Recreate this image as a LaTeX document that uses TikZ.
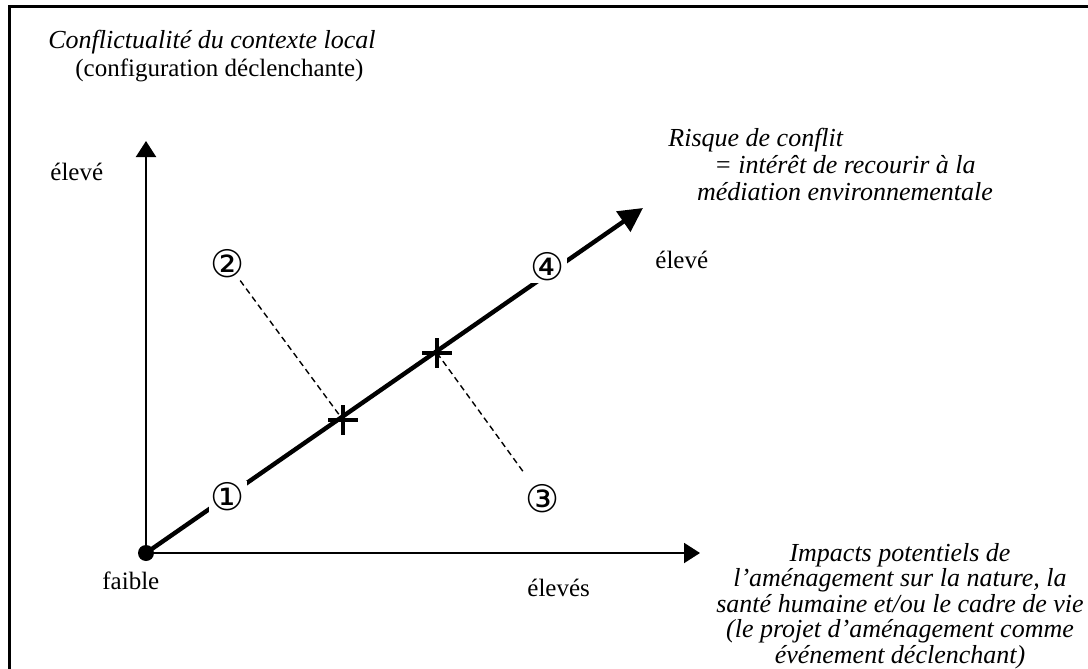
\documentclass[tikz,border=0pt]{standalone}
\usepackage{fontspec}
\setmainfont{Liberation Serif}
\newfontfamily\circfont{DejaVu Sans}
\usetikzlibrary{arrows.meta}
\tikzset{
  axis/.style={line width=1pt, -{Triangle[length=8pt, width=10pt]}},
  riskaxis/.style={line width=2.2pt, -{Triangle[length=12pt, width=12pt]}},
  dashlink/.style={line width=0.7pt, dash pattern=on 3pt off 2pt},
  label/.style={font=\fontsize{12.5}{13.5}\selectfont, inner sep=0pt},
  caption/.style={label, font=\fontsize{13}{13.6}\selectfont\itshape, align=center},
  situation/.style={font=\circfont\fontsize{19}{19}\selectfont, inner sep=1pt, fill=white},
  cross/.style={minimum size=15pt, inner sep=0pt,
    path picture={
      \draw[line width=2.4pt]
        (path picture bounding box.north) -- (path picture bounding box.south)
        (path picture bounding box.west) -- (path picture bounding box.east);
    }}
}
\begin{document}
\begin{tikzpicture}[x=0.5pt, y=-0.5pt]
  \useasboundingbox (0,0) rectangle (1088,669);
  \clip (0,0) rectangle (1088,669);
  \draw[line width=1.5pt] (9,6) rectangle (1100,690);

  % axes
  \coordinate (O) at (146,553);
  \coordinate (ytip) at (146,141);
  \coordinate (xtip) at (700,553);
  \coordinate (dtip) at (643,208);
  \draw[axis] (O) -- (ytip);
  \draw[axis] (O) -- (xtip);
  \draw[riskaxis] (O) -- (dtip);
  \fill (O) circle (8);

  % situations
  \node[situation] (s1) at (228,497) {①};
  \node[situation] (s4) at (548,267) {④};
  \node[situation, fill=none] (s2) at (228,264) {②};
  \node[situation, fill=none] (s3) at (543,499) {③};
  \node[cross] (c1) at (343,420) {};
  \node[cross] (c2) at (437,353) {};
  \draw[dashlink] (s2) -- (c1.center);
  \draw[dashlink, shorten >=6pt] (c2.center) -- (s3);

  % labels
  \node[caption, anchor=base west] (ytitle) at (48,48) {Conflictualité du contexte local};
  \node[label, anchor=base west] (ysub) at (75,76) {(configuration déclenchante)};
  \node[label, anchor=base west] (yhigh) at (50,180) {élevé};
  \node[label, anchor=base west] (low) at (102,589) {faible};
  \node[label, anchor=base west] (xhigh) at (527,596) {élevés};
  \node[label, anchor=base west] (dhigh) at (655,268) {élevé};
  \node[caption, anchor=base west] (dtitle) at (668,146) {Risque de conflit};
  \node[caption, anchor=north] (dsub) at (845,155)
    {= intérêt de recourir à la\\médiation environnementale};
  \node[caption, font=\fontsize{13}{12.75}\selectfont\itshape, anchor=north] (xtitle) at (900,543)
    {Impacts potentiels de\\l’aménagement sur la nature, la\\santé humaine et/ou le cadre de vie\\(le projet d’aménagement comme\\événement déclenchant)};
\end{tikzpicture}
\end{document}
